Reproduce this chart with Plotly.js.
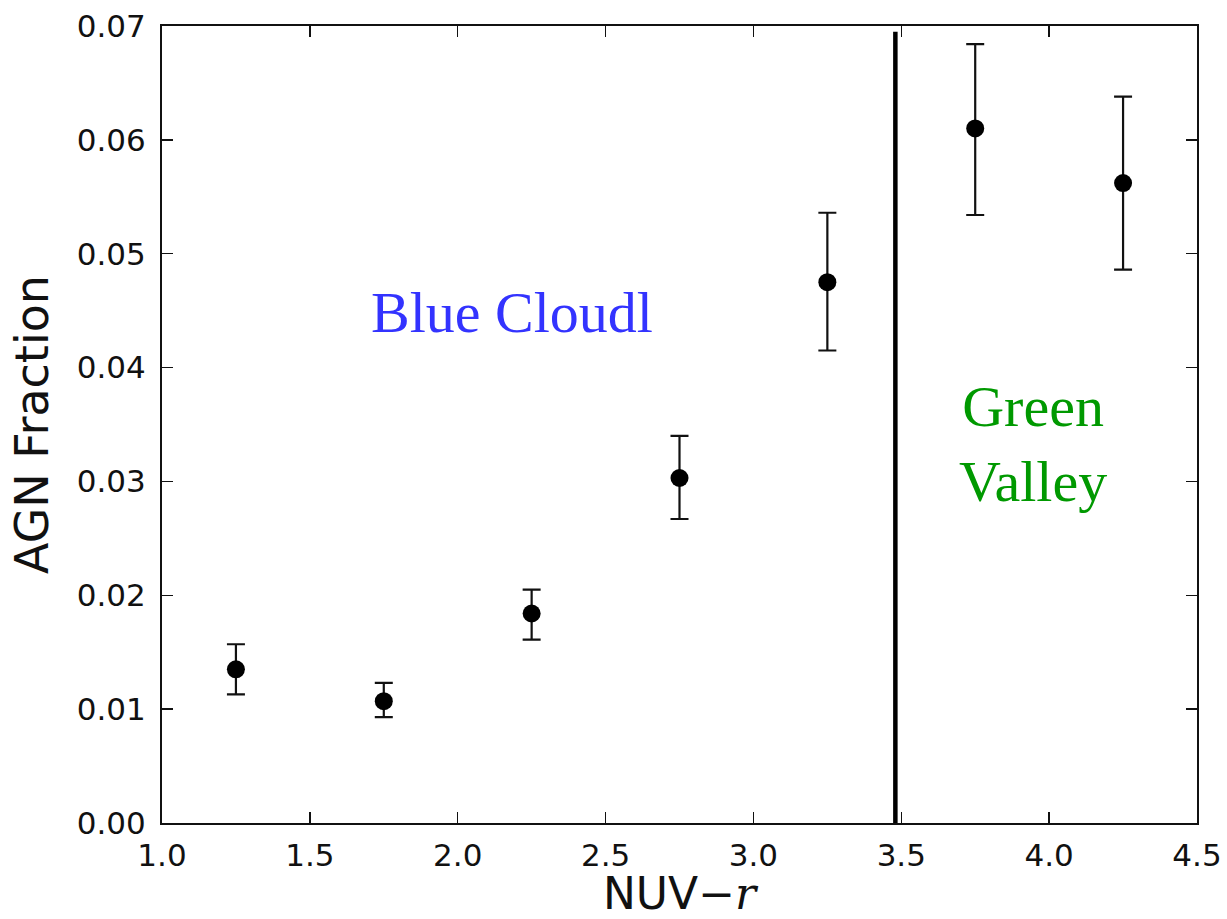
<!DOCTYPE html>
<html>
<head>
<meta charset="utf-8">
<script src="https://cdn.plot.ly/plotly-3.0.1.min.js"></script>
<style>html,body{margin:0;padding:0;background:#fff;}#plot{width:1227px;height:919px;}</style>
</head>
<body>
<div id="plot"></div>
<script>
// Data
const colorBins = [1.25, 1.75, 2.25, 2.75, 3.25, 3.75, 4.25];
const agnFraction = [0.0135, 0.0107, 0.0184, 0.0303, 0.0475, 0.0610, 0.0562];
const errPlus = [0.0022, 0.0016, 0.0021, 0.0037, 0.0061, 0.0074, 0.0076];
const errMinus = [0.0022, 0.0014, 0.0023, 0.0036, 0.0060, 0.0076, 0.0076];
const boundaryX = [3.48, 3.48];
const boundaryY = [0, 0.0695];
const xTicks = [1.0, 1.5, 2.0, 2.5, 3.0, 3.5, 4.0, 4.5];
const xTickText = ['1.0', '1.5', '2.0', '2.5', '3.0', '3.5', '4.0', '4.5'];
const yTicks = [0, 0.01, 0.02, 0.03, 0.04, 0.05, 0.06, 0.07];
const yTickText = ['0.00', '0.01', '0.02', '0.03', '0.04', '0.05', '0.06', '0.07'];
const regionLabels = ['Blue Cloudl', 'Green<br>Valley'];
const regionX = [2.183, 3.945];
const regionY = [0.0448, 0.0333];
const regionColors = ['#3333ff', '#009900'];

const traces = [
  {
    x: boundaryX, y: boundaryY, mode: 'lines', type: 'scatter',
    line: {color: '#000', width: 4.5}, hoverinfo: 'skip', showlegend: false
  },
  {
    x: colorBins, y: agnFraction, mode: 'markers', type: 'scatter',
    marker: {color: '#000', size: 18},
    error_y: {type: 'data', array: errPlus, arrayminus: errMinus, symmetric: false,
              color: '#111', thickness: 2.2, width: 9},
    showlegend: false
  }
];

const axisCommon = {
  showgrid: false, zeroline: false, showline: true, linecolor: '#111', linewidth: 2,
  mirror: 'ticks', ticks: 'inside', ticklen: 11, tickwidth: 1.3, tickcolor: '#111',
  tickfont: {family: 'DejaVu Sans', size: 31, color: '#111'}
};

const layout = {
  width: 1227, height: 919,
  margin: {l: 162, r: 30, t: 26, b: 96},
  paper_bgcolor: '#fff', plot_bgcolor: '#fff',
  xaxis: Object.assign({}, axisCommon, {
    range: [1.0, 4.5], tickvals: xTicks, ticktext: xTickText, ticklabelstandoff: 4,
    title: {text: 'NUV\u2212<span style="font-family:\'DejaVu Serif\';font-style:italic">r</span>',
            font: {family: 'DejaVu Sans', size: 44, color: '#111'}, standoff: 9}
  }),
  yaxis: Object.assign({}, axisCommon, {
    range: [0, 0.07], tickvals: yTicks, ticktext: yTickText, ticklabelstandoff: 8,
    title: {text: 'AGN Fraction', font: {family: 'DejaVu Sans', size: 46, color: '#111'}, standoff: 14}
  }),
  annotations: regionLabels.map((t, i) => ({
    text: t, x: regionX[i], y: regionY[i], xref: 'x', yref: 'y', showarrow: false,
    xanchor: 'center', yanchor: 'middle', align: 'center',
    font: {family: 'Liberation Serif', size: 58, color: regionColors[i]}
  }))
};

Plotly.newPlot('plot', traces, layout, {staticPlot: true, displayModeBar: false});
</script>
</body>
</html>
